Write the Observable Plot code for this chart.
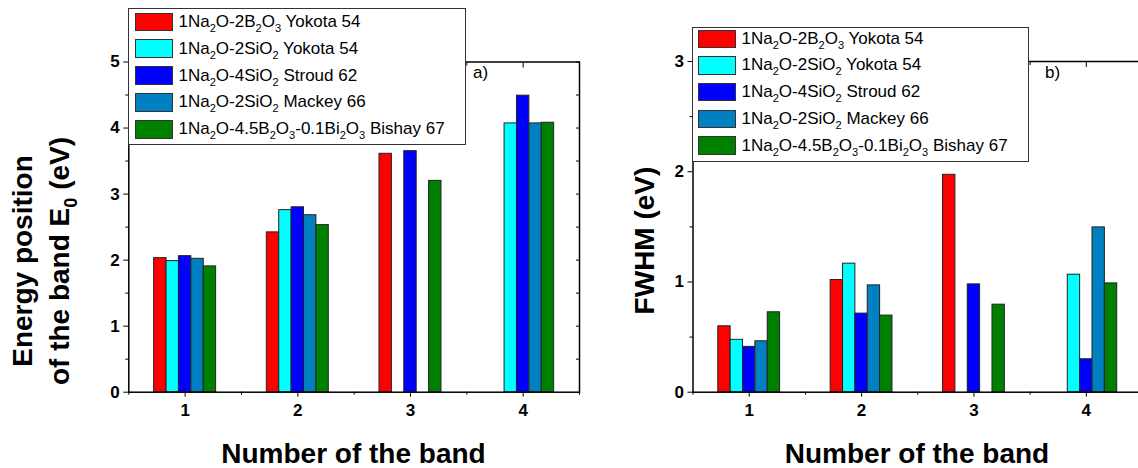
<!DOCTYPE html>
<html><head><meta charset="utf-8">
<script src="https://cdn.jsdelivr.net/npm/d3@7"></script>
<script src="https://cdn.jsdelivr.net/npm/@observablehq/plot@0.6"></script>
<style>
html,body{margin:0;padding:0;background:#fff;overflow:hidden;}
#root{position:relative;width:1138px;height:468px;overflow:hidden;font-family:"Liberation Sans",Arial,sans-serif;color:#000;}
#root svg text{font-size:17px !important;font-weight:bold !important;font-family:"Liberation Sans",Arial,sans-serif !important;}
.abs{position:absolute;white-space:nowrap;}
.legend{position:absolute;background:#fff;border:1px solid #333;box-sizing:border-box;}
.row{position:absolute;display:flex;align-items:center;font-size:17px;white-space:nowrap;}
.sw{width:38px;height:18.5px;box-sizing:border-box;border:1px solid #333;margin-right:6px;flex:none;}
sub{font-size:0.65em;vertical-align:-0.45em;line-height:0;}
.title{font-size:28px;font-weight:bold;line-height:37px;text-align:center;}
</style></head><body><div id="root"></div>
<script>
// ---- data ----
const bands = [1, 2, 3, 4];
const seriesKeys = ["Yokota54_B", "Yokota54_Si", "Stroud62", "Mackey66", "Bishay67"];
const seriesLabels = [
  "1Na<sub>2</sub>O-2B<sub>2</sub>O<sub>3</sub> Yokota 54",
  "1Na<sub>2</sub>O-2SiO<sub>2</sub> Yokota 54",
  "1Na<sub>2</sub>O-4SiO<sub>2</sub> Stroud 62",
  "1Na<sub>2</sub>O-2SiO<sub>2</sub> Mackey 66",
  "1Na<sub>2</sub>O-4.5B<sub>2</sub>O<sub>3</sub>-0.1Bi<sub>2</sub>O<sub>3</sub> Bishay 67"
];
const seriesColors = ["#ff0000", "#00ffff", "#0000ff", "#0080c0", "#008000"];

// Energy position of the band E0 (eV), per band 1..4
const e0Yokota54B  = [2.03, 2.42, 3.61, null];
const e0Yokota54Si = [1.985, 2.757, null, 4.07];
const e0Stroud62   = [2.06, 2.80, 3.65, 4.49];
const e0Mackey66   = [2.02, 2.68, null, 4.07];
const e0Bishay67   = [1.905, 2.53, 3.20, 4.08];

// FWHM (eV), per band 1..4
const fwYokota54B  = [0.598, 1.018, 1.972, null];
const fwYokota54Si = [0.475, 1.166, null, 1.066];
const fwStroud62   = [0.411, 0.713, 0.978, 0.299];
const fwMackey66   = [0.462, 0.969, null, 1.495];
const fwBishay67   = [0.725, 0.695, 0.794, 0.987];

const e0Ticks = [0, 1, 2, 3, 4, 5];
const fwTicks = [0, 1, 2, 3];
const xLabel = "Number of the band";

// ---- build tables ----
function rowsFrom(seriesArrays) {
  const out = [];
  seriesArrays.forEach((arr, s) => arr.forEach((v, b) => {
    if (v != null) out.push({band: bands[b], slot: s, series: seriesKeys[s], value: v});
  }));
  return out;
}
const e0Rows = rowsFrom([e0Yokota54B, e0Yokota54Si, e0Stroud62, e0Mackey66, e0Bishay67]);
const fwRows = rowsFrom([fwYokota54B, fwYokota54Si, fwStroud62, fwMackey66, fwBishay67]);

const slotW = 0.11;
const halves = t => d3.range(0.5, t[t.length - 1] + 0.001, 0.5);
const lab = {fontSize: 17, fontWeight: "bold", fill: "#000"};

function chart(rows, yTicks, opts) {
  const yMax = yTicks[yTicks.length - 1];
  return Plot.plot({
    width: opts.width, height: 468,
    marginLeft: opts.ml, marginRight: opts.mr, marginTop: opts.mt, marginBottom: 76.3,
    x: {domain: [0.5, 4.5], label: null},
    y: {domain: [0, yMax], label: null},
    color: {domain: seriesKeys, range: seriesColors},
    style: {fontFamily: '"Liberation Sans", Arial, sans-serif', fontSize: "17px", fontWeight: "bold", color: "#000", background: "transparent", overflow: "visible"},
    marks: [
      Plot.rectY(rows, {
        x1: d => d.band + (d.slot - 2.5) * slotW,
        x2: d => d.band + (d.slot - 1.5) * slotW,
        y1: 0, y2: "value", fill: "series", stroke: "#222", strokeWidth: 1
      }),
      Plot.frame({stroke: "#000", strokeWidth: 1.5}),
      Plot.axisY({ticks: yTicks, tickSize: 5, tickFormat: () => "", label: null}),
      Plot.text(yTicks, {x: 0.5, y: d => d, text: d => String(d), textAnchor: "end", dx: -9, ...lab}),
      Plot.axisY({ticks: halves(yTicks).filter(v => v % 1 !== 0), tickSize: 3, tickFormat: () => "", label: null}),
      Plot.axisY({anchor: "right", ticks: halves(yTicks), tickSize: -4, tickFormat: () => "", label: null}),
      Plot.axisX({ticks: bands, tickSize: 5, tickFormat: () => "", label: null}),
      Plot.text(bands, {x: d => d, y: 0, text: d => String(d), lineAnchor: "top", dy: 12, ...lab}),
      Plot.axisX({ticks: [0.5, 1.5, 2.5, 3.5, 4.5], tickSize: 3, tickFormat: () => "", label: null}),
      Plot.axisX({anchor: "top", ticks: bands, tickSize: -5, tickFormat: () => "", label: null}),
      Plot.axisX({anchor: "top", ticks: [1.5, 2.5, 3.5], tickSize: -3, tickFormat: () => "", label: null})
    ]
  });
}

const root = document.getElementById("root");
function place(el, left, top) {
  el.style.position = "absolute"; el.style.left = left + "px"; el.style.top = top + "px";
  root.appendChild(el);
}
place(chart(e0Rows, e0Ticks, {width: 600, ml: 128.3, mr: 21, mt: 61.5}), 0, 0);
place(chart(fwRows, fwTicks, {width: 560, ml: 92.5, mr: 18, mt: 61}), 600, 0);

function legend(left, top, w, h, rowTop0, rowStep, swLeft) {
  const box = document.createElement("div");
  box.className = "legend";
  Object.assign(box.style, {left: left + "px", top: top + "px", width: w + "px", height: h + "px"});
  seriesKeys.forEach((k, i) => {
    const r = document.createElement("div");
    r.className = "row";
    r.style.left = swLeft + "px";
    r.style.top = (rowTop0 + i * rowStep) + "px";
    r.style.height = "18.5px";
    r.innerHTML = `<div class="sw" style="background:${seriesColors[i]}"></div><span>${seriesLabels[i]}</span>`;
    box.appendChild(r);
  });
  root.appendChild(box);
}
legend(128, 8, 338, 137, 3.5, 26.9, 5.5);
legend(692, 26.5, 337, 135, 2, 26.7, 4.5);

function text(html, cls, css) {
  const d = document.createElement("div");
  d.className = "abs " + cls;
  d.innerHTML = html;
  Object.assign(d.style, css);
  root.appendChild(d);
}
// axis titles
text("Energy position<br>of the band E<sub>0</sub> (eV)", "title",
  {left: (40.5 - 150) + "px", top: (261 - 37) + "px", width: "300px", height: "74px", transform: "rotate(-90deg)", transformOrigin: "150px 37px"});
text("FWHM (eV)", "title",
  {left: (644.2 - 150) + "px", top: (240 - 18.5) + "px", width: "300px", height: "37px", transform: "rotate(-90deg)", transformOrigin: "150px 18.5px"});
text(xLabel, "title", {left: (353.5 - 200) + "px", top: "434.7px", width: "400px"});
text(xLabel, "title", {left: (917 - 200) + "px", top: "434.7px", width: "400px"});
// panel labels
text("a)", "", {left: "473px", top: "63px", fontSize: "17px"});
text("b)", "", {left: "1045px", top: "63px", fontSize: "17px"});
</script></body></html>
